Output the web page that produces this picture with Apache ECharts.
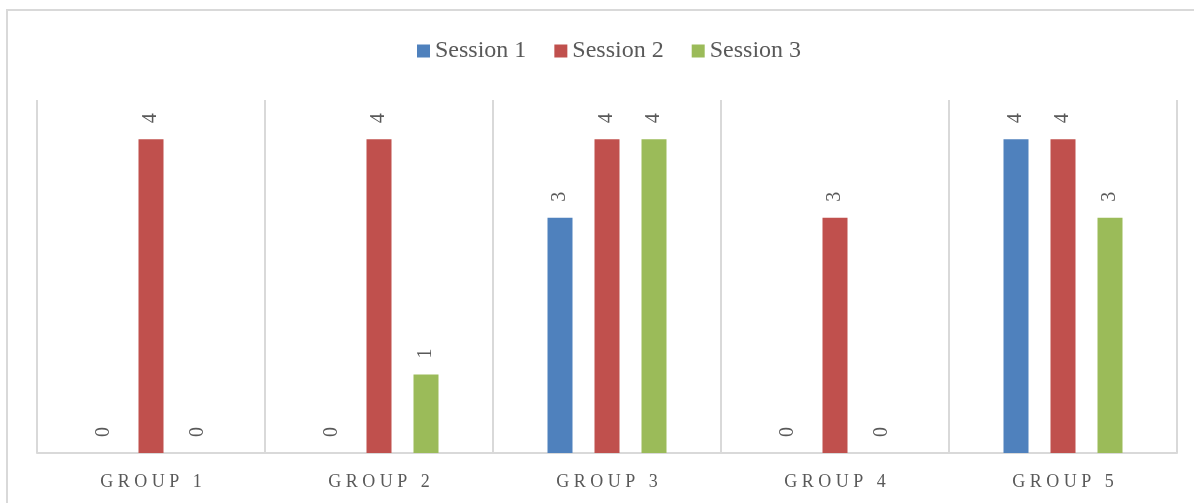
<!DOCTYPE html>
<html>
<head>
<meta charset="utf-8">
<script src="https://cdn.jsdelivr.net/npm/echarts@6/dist/echarts.min.js"></script>
<style>
  html, body { margin: 0; padding: 0; background: #fff; overflow: hidden; }
  #chart { width: 1194px; height: 503px; }
</style>
</head>
<body>
<div id="chart"></div>
<script>
const groups = ["GROUP 1", "GROUP 2", "GROUP 3", "GROUP 4", "GROUP 5"];
const session1 = [0, 0, 3, 0, 4];
const session2 = [4, 4, 4, 3, 4];
const session3 = [0, 1, 4, 0, 3];
const seriesNames = ["Session 1", "Session 2", "Session 3"];
const colors = ["#4f81bd", "#c0504d", "#9bbb59"];

const chartInstance = echarts.init(document.getElementById("chart"));

function makeSeries(name, data, color) {
  return {
    name: name,
    type: "bar",
    data: data,
    barWidth: 25,
    barGap: "88%",
    itemStyle: { color: color },
    label: {
      show: true,
      position: "top",
      distance: 16,
      rotate: 90,
      align: "left",
      verticalAlign: "middle",
      color: "#595959",
      fontSize: 20,
      fontFamily: "Liberation Serif",
    },
  };
}

const option = {
  animation: false,
  textStyle: { fontFamily: "Liberation Serif" },
  graphic: [
    {
      type: "rect",
      shape: { x: 7, y: 10, width: 1210, height: 520 },
      style: { fill: "none", stroke: "#d9d9d9", lineWidth: 2 },
      silent: true,
    },
  ],
  legend: {
    top: 34,
    left: 412,
    itemWidth: 13,
    itemHeight: 13,
    itemGap: 28,
    icon: "rect",
    textStyle: { color: "#595959", fontSize: 24, fontFamily: "Liberation Serif" },
    data: seriesNames,
  },
  grid: {
    left: 37,
    right: 17,
    top: 100,
    bottom: 50,
  },
  xAxis: {
    type: "category",
    data: groups,
    axisLine: { lineStyle: { color: "#d9d9d9", width: 2 } },
    axisTick: { show: false },
    splitLine: { show: true, lineStyle: { color: "#d9d9d9", width: 2 } },
    axisLabel: {
      color: "#595959",
      fontSize: 18,
      margin: 20,
      fontFamily: "Liberation Serif",
      formatter: (v) => v.split("").join(" "),
    },
  },
  yAxis: {
    type: "value",
    min: 0,
    max: 4.5,
    show: false,
    splitLine: { show: false },
  },
  series: [
    makeSeries(seriesNames[0], session1, colors[0]),
    makeSeries(seriesNames[1], session2, colors[1]),
    makeSeries(seriesNames[2], session3, colors[2]),
  ],
};
chartInstance.setOption(option);
</script>
</body>
</html>
